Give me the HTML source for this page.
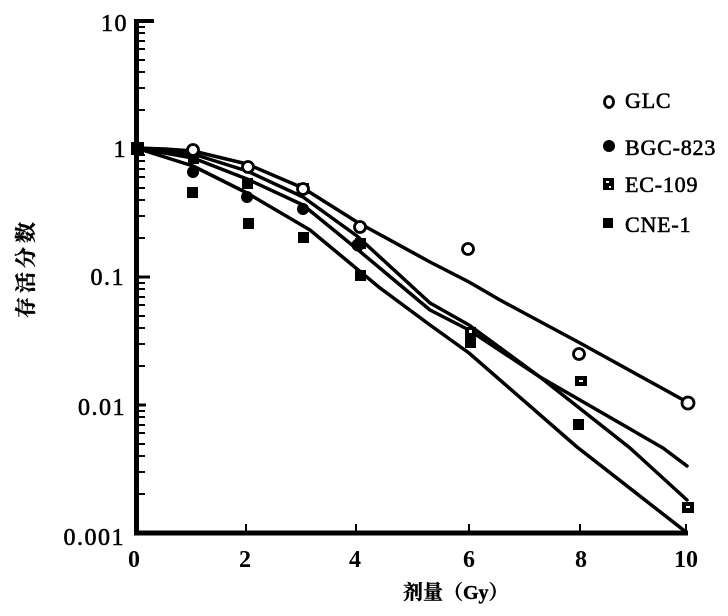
<!DOCTYPE html>
<html><head><meta charset="utf-8"><style>
html,body{margin:0;padding:0;background:#fff;}
svg{display:block;}
</style></head><body>
<svg width="728" height="616" viewBox="0 0 728 616" xmlns="http://www.w3.org/2000/svg">
<rect width="728" height="616" fill="#fff"/>
<!-- axes -->
<g stroke="#000" fill="none">
<line x1="136.5" y1="19" x2="136.5" y2="535" stroke-width="5"/>
<line x1="134" y1="533" x2="688" y2="533" stroke-width="5"/>
<line x1="136" y1="21" x2="154" y2="21" stroke-width="4"/>
<line x1="136" y1="149" x2="150" y2="149" stroke-width="3"/>
<line x1="136" y1="277" x2="150" y2="277" stroke-width="3"/>
<line x1="136" y1="405" x2="146" y2="405" stroke-width="3"/>
<g stroke-width="2">
<line x1="136" y1="27" x2="145" y2="27"/><line x1="136" y1="33" x2="145" y2="33"/><line x1="136" y1="41" x2="145" y2="41"/><line x1="136" y1="49" x2="145" y2="49"/><line x1="136" y1="60" x2="145" y2="60"/><line x1="136" y1="72" x2="145" y2="72"/><line x1="136" y1="88" x2="145" y2="88"/><line x1="136" y1="110" x2="145" y2="110"/>
<line x1="136" y1="155" x2="145" y2="155"/><line x1="136" y1="161" x2="145" y2="161"/><line x1="136" y1="169" x2="145" y2="169"/><line x1="136" y1="177" x2="145" y2="177"/><line x1="136" y1="188" x2="145" y2="188"/><line x1="136" y1="200" x2="145" y2="200"/><line x1="136" y1="216" x2="145" y2="216"/><line x1="136" y1="238" x2="145" y2="238"/>
<line x1="136" y1="283" x2="145" y2="283"/><line x1="136" y1="289" x2="145" y2="289"/><line x1="136" y1="297" x2="145" y2="297"/><line x1="136" y1="305" x2="145" y2="305"/><line x1="136" y1="316" x2="145" y2="316"/><line x1="136" y1="328" x2="145" y2="328"/><line x1="136" y1="344" x2="145" y2="344"/><line x1="136" y1="366" x2="145" y2="366"/>
<line x1="136" y1="411" x2="145" y2="411"/><line x1="136" y1="417" x2="145" y2="417"/><line x1="136" y1="425" x2="145" y2="425"/><line x1="136" y1="433" x2="145" y2="433"/><line x1="136" y1="444" x2="145" y2="444"/><line x1="136" y1="456" x2="145" y2="456"/><line x1="136" y1="472" x2="145" y2="472"/><line x1="136" y1="494" x2="145" y2="494"/>
<line x1="246" y1="524" x2="246" y2="533"/><line x1="356" y1="524" x2="356" y2="533"/><line x1="469" y1="524" x2="469" y2="533"/><line x1="580" y1="524" x2="580" y2="533"/><line x1="686" y1="524" x2="686" y2="533"/>
</g>
</g>
<!-- curves -->
<g stroke="#000" stroke-width="3.5" fill="none" stroke-linejoin="round" stroke-linecap="round">
<polyline points="136,148 165,149 193,151 247,164 303,188 357,222 430,262 469,282 500,300 580,343 687,402"/>
<polyline points="136,148 193,154 247,171 303,197 357,236 430,303 469,325 540,377 663,448 687,466"/>
<polyline points="136,148 193,158 247,179 303,205 357,249 430,310 469,330 540,377 630,448 687,500"/>
<polyline points="136,148 193,166 247,193 310,230 380,288 430,325 469,353 577,447 686,532"/>
</g>
<!-- start marker -->
<rect x="131" y="142" width="13" height="13" fill="#000"/>
<!-- CNE-1 filled squares -->
<g fill="#000">
<rect x="187" y="187" width="11" height="11"/>
<rect x="243" y="218" width="11" height="11"/>
<rect x="298" y="232" width="11" height="11"/>
<rect x="355" y="270" width="11" height="11"/>
<rect x="465" y="337" width="11" height="11"/>
<rect x="573" y="419" width="11" height="11"/>
</g>
<!-- EC-109 squares with hole -->
<g>
<rect x="188" y="153" width="11" height="11" fill="#000"/>
<rect x="242" y="178" width="11" height="11" fill="#000"/>
<rect x="298" y="183" width="11" height="11" fill="#000"/><rect x="302" y="186" width="3" height="3" fill="#fff"/>
<rect x="355" y="238" width="11" height="11" fill="#000"/>
<rect x="465" y="327" width="11" height="11" fill="#000"/><rect x="469" y="330" width="3" height="3" fill="#fff"/>
<rect x="575" y="376" width="12" height="10" fill="#000"/><rect x="579" y="380" width="4" height="2" fill="#fff"/>
<rect x="682" y="502" width="12" height="11" fill="#000"/><rect x="686" y="506" width="4" height="2" fill="#fff"/>
</g>
<!-- BGC filled circles -->
<g fill="#000">
<circle cx="193" cy="172" r="6"/>
<circle cx="247" cy="197" r="6"/>
<circle cx="303" cy="209" r="6"/>
<circle cx="358" cy="245" r="6.5"/>
</g>
<!-- GLC open circles -->
<g fill="#fff" stroke="#000" stroke-width="2.8">
<circle cx="193" cy="150" r="5.5"/>
<circle cx="248" cy="167" r="5.5"/>
<circle cx="303" cy="189" r="5.5"/>
<circle cx="360" cy="227" r="5.5"/>
<circle cx="468" cy="249" r="5.5"/>
<circle cx="579" cy="354" r="5.5"/>
<circle cx="688" cy="403" r="6"/>
</g>
<!-- legend -->
<ellipse cx="609" cy="102" rx="4.5" ry="5.5" fill="#fff" stroke="#000" stroke-width="2.8"/>
<circle cx="609" cy="146" r="6" fill="#000"/>
<rect x="603" y="178" width="11" height="12" fill="#000"/><rect x="606" y="181" width="3" height="2" fill="#fff"/><rect x="609" y="186" width="2" height="2" fill="#fff"/>
<rect x="603" y="218" width="10" height="10" fill="#000"/>
<g font-family="Liberation Serif, serif" font-size="22" fill="#000" stroke="#000" stroke-width="0.6" letter-spacing="0.8">
<text x="625" y="108">GLC</text>
<text x="625" y="155">BGC-823</text>
<text x="625" y="192">EC-109</text>
<text x="625" y="232">CNE-1</text>
</g>
<!-- y tick labels -->
<g font-family="Liberation Serif, serif" font-size="24" fill="#000" stroke="#000" stroke-width="0.6" text-anchor="end" letter-spacing="1.5">
<text x="128" y="31">10</text>
<text x="127" y="157">1</text>
<text x="125" y="285">0.1</text>
<text x="126" y="415">0.01</text>
<text x="125" y="545">0.001</text>
</g>
<!-- x tick labels -->
<g font-family="Liberation Serif, serif" font-size="24" font-weight="bold" fill="#000" text-anchor="middle">
<text x="134" y="567">0</text>
<text x="245" y="567">2</text>
<text x="355" y="567">4</text>
<text x="469" y="567">6</text>
<text x="581" y="567">8</text>
<text x="686" y="567">10</text>
</g>
<!-- axis titles -->
<text x="403" y="599" font-family="Liberation Serif, 'Noto Serif CJK SC', 'Noto Sans CJK SC', serif" font-size="20" font-weight="bold" fill="#000" stroke="#000" stroke-width="0.4">剂量（Gy）</text>
<text transform="translate(33,318) rotate(-90)" font-family="'Noto Serif CJK SC', 'Noto Sans CJK SC', serif" font-size="21" font-weight="bold" fill="#000" stroke="#000" stroke-width="0.4" letter-spacing="4">存活分数</text>
</svg>
</body></html>
